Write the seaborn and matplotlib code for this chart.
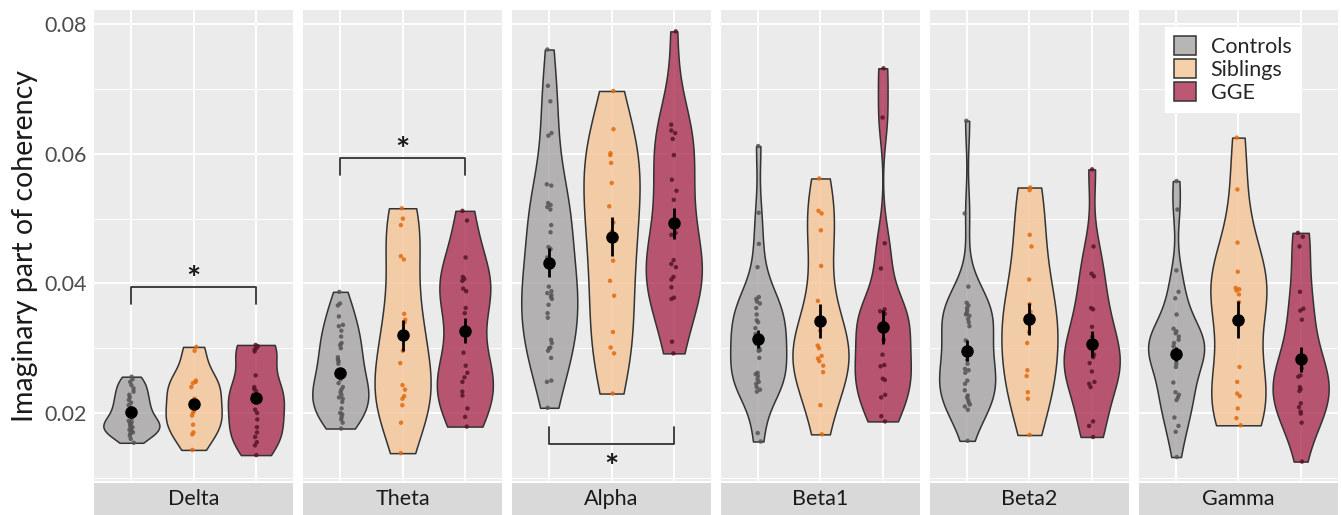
import numpy as np
import pandas as pd
import matplotlib
matplotlib.use("Agg")
import matplotlib.pyplot as plt
from matplotlib.patches import Rectangle, Patch
from matplotlib.ticker import MultipleLocator
from matplotlib.colors import to_rgba
import seaborn as sns

# ---------------- data ----------------
bands = ["Delta", "Theta", "Alpha", "Beta1", "Beta2", "Gamma"]
groups = ["Controls", "Siblings", "GGE"]

delta_controls = [0.0256, 0.0252, 0.0248, 0.0243, 0.0238, 0.0233, 0.0228, 0.0224, 0.0220, 0.0216,
                  0.0212, 0.0208, 0.0204, 0.0200, 0.0196, 0.0192, 0.0188, 0.0186, 0.0184, 0.0182,
                  0.0180, 0.0178, 0.0176, 0.0174, 0.0172, 0.0170, 0.0168, 0.0165, 0.0160, 0.0154]
delta_siblings = [0.0302, 0.0296, 0.0250, 0.0248, 0.0246, 0.0240, 0.0222, 0.0203, 0.0200, 0.0196,
                  0.0182, 0.0170, 0.0167, 0.0143]
delta_gge = [0.0305, 0.0303, 0.0300, 0.0298, 0.0295, 0.0258, 0.0240, 0.0237, 0.0234, 0.0228,
             0.0222, 0.0205, 0.0200, 0.0190, 0.0178, 0.0170, 0.0163, 0.0155, 0.0150, 0.0135]

theta_controls = [0.0387, 0.0369, 0.0366, 0.0349, 0.0336, 0.0334, 0.0327, 0.0318, 0.0308, 0.0305,
                  0.0300, 0.0286, 0.0282, 0.0280, 0.0276, 0.0262, 0.0258, 0.0252, 0.0246, 0.0240,
                  0.0236, 0.0232, 0.0228, 0.0224, 0.0222, 0.0217, 0.0207, 0.0200, 0.0198, 0.0194,
                  0.0190, 0.0185, 0.0176]
theta_siblings = [0.0516, 0.0500, 0.0490, 0.0442, 0.0437, 0.0353, 0.0344, 0.0340, 0.0296, 0.0277,
                  0.0243, 0.0236, 0.0226, 0.0222, 0.0212, 0.0185, 0.0138]
theta_gge = [0.0512, 0.0497, 0.0440, 0.0410, 0.0407, 0.0404, 0.0392, 0.0388, 0.0362, 0.0354,
             0.0293, 0.0273, 0.0262, 0.0255, 0.0248, 0.0233, 0.0227, 0.0207, 0.0194, 0.0179]

alpha_controls = [0.0761, 0.0705, 0.0681, 0.0632, 0.0628, 0.0553, 0.0551, 0.0524, 0.0521, 0.0518,
                  0.0514, 0.0490, 0.0479, 0.0456, 0.0453, 0.0440, 0.0433, 0.0395, 0.0388, 0.0385,
                  0.0382, 0.0379, 0.0376, 0.0367, 0.0354, 0.0347, 0.0313, 0.0308, 0.0301, 0.0300,
                  0.0296, 0.0285, 0.0250, 0.0248, 0.0208]
alpha_siblings = [0.0697, 0.0638, 0.0601, 0.0598, 0.0586, 0.0555, 0.0519, 0.0494, 0.0480, 0.0435,
                  0.0404, 0.0381, 0.0325, 0.0301, 0.0292, 0.0230]
alpha_gge = [0.0789, 0.0645, 0.0636, 0.0632, 0.0623, 0.0598, 0.0560, 0.0543, 0.0529, 0.0478,
             0.0475, 0.0436, 0.0430, 0.0425, 0.0410, 0.0406, 0.0394, 0.0378, 0.0376, 0.0310,
             0.0292]

beta1_controls = [0.0612, 0.0509, 0.0461, 0.0425, 0.0379, 0.0376, 0.0372, 0.0369, 0.0362, 0.0352,
                  0.0343, 0.0340, 0.0331, 0.0322, 0.0318, 0.0307, 0.0300, 0.0297, 0.0296, 0.0285,
                  0.0262, 0.0260, 0.0257, 0.0252, 0.0248, 0.0245, 0.0240, 0.0236, 0.0233, 0.0169,
                  0.0156]
beta1_siblings = [0.0562, 0.0512, 0.0508, 0.0482, 0.0427, 0.0373, 0.0327, 0.0304, 0.0300, 0.0288,
                  0.0284, 0.0280, 0.0273, 0.0263, 0.0212, 0.0167]
beta1_gge = [0.0732, 0.0656, 0.0462, 0.0423, 0.0360, 0.0357, 0.0353, 0.0340, 0.0336, 0.0313,
             0.0290, 0.0274, 0.0272, 0.0253, 0.0251, 0.0228, 0.0224, 0.0195, 0.0187]

beta2_controls = [0.0651, 0.0508, 0.0395, 0.0370, 0.0366, 0.0362, 0.0358, 0.0354, 0.0352, 0.0350,
                  0.0345, 0.0340, 0.0334, 0.0312, 0.0298, 0.0292, 0.0282, 0.0276, 0.0268, 0.0266,
                  0.0262, 0.0250, 0.0245, 0.0235, 0.0227, 0.0224, 0.0220, 0.0216, 0.0213, 0.0210,
                  0.0205, 0.0157]
beta2_siblings = [0.0548, 0.0544, 0.0475, 0.0457, 0.0406, 0.0368, 0.0356, 0.0342, 0.0325, 0.0308,
                  0.0266, 0.0257, 0.0232, 0.0222, 0.0166]
beta2_gge = [0.0576, 0.0457, 0.0415, 0.0411, 0.0362, 0.0360, 0.0333, 0.0318, 0.0300, 0.0290,
             0.0286, 0.0277, 0.0264, 0.0248, 0.0245, 0.0240, 0.0187, 0.0180, 0.0163]

gamma_controls = [0.0558, 0.0514, 0.0420, 0.0387, 0.0377, 0.0352, 0.0330, 0.0326, 0.0323, 0.0318,
                  0.0313, 0.0308, 0.0303, 0.0296, 0.0291, 0.0286, 0.0281, 0.0276, 0.0271, 0.0247,
                  0.0232, 0.0228, 0.0224, 0.0220, 0.0193, 0.0180, 0.0171, 0.0132]
gamma_siblings = [0.0625, 0.0545, 0.0463, 0.0418, 0.0393, 0.0391, 0.0389, 0.0383, 0.0371, 0.0271,
                  0.0248, 0.0230, 0.0226, 0.0207, 0.0192, 0.0181]
gamma_gge = [0.0478, 0.0472, 0.0457, 0.0387, 0.0361, 0.0358, 0.0344, 0.0284, 0.0278, 0.0269,
             0.0258, 0.0256, 0.0240, 0.0237, 0.0234, 0.0215, 0.0209, 0.0202, 0.0199, 0.0185,
             0.0125]

# group means and standard errors per band (Delta..Gamma)
mean_controls = [0.0201, 0.0261, 0.0432, 0.0314, 0.0296, 0.0291]
mean_siblings = [0.0214, 0.0320, 0.0472, 0.0342, 0.0345, 0.0344]
mean_gge = [0.0223, 0.0327, 0.0493, 0.0333, 0.0306, 0.0283]
se_controls = [0.0004, 0.0006, 0.0022, 0.0014, 0.0016, 0.0011]
se_siblings = [0.0007, 0.0024, 0.0030, 0.0026, 0.0025, 0.0029]
se_gge = [0.0007, 0.0019, 0.0024, 0.0026, 0.0020, 0.0019]

# significant comparisons: (band, bracket level, tip level, star level)
sig_bands = ["Delta", "Theta", "Alpha"]
sig_bracket_y = [0.0394, 0.0594, 0.0152]
sig_tip_y = [0.0368, 0.0568, 0.0179]
sig_star_y = [0.0405, 0.0603, 0.0114]

raw = {
    "Delta": [delta_controls, delta_siblings, delta_gge],
    "Theta": [theta_controls, theta_siblings, theta_gge],
    "Alpha": [alpha_controls, alpha_siblings, alpha_gge],
    "Beta1": [beta1_controls, beta1_siblings, beta1_gge],
    "Beta2": [beta2_controls, beta2_siblings, beta2_gge],
    "Gamma": [gamma_controls, gamma_siblings, gamma_gge],
}
rows = []
for b in bands:
    for g, vals in zip(groups, raw[b]):
        for v in vals:
            rows.append((b, g, v))
df = pd.DataFrame(rows, columns=["band", "group", "value"])

stats = pd.DataFrame({
    "band": np.repeat(bands, 3),
    "group": groups * len(bands),
    "mean": np.ravel(np.column_stack([mean_controls, mean_siblings, mean_gge])),
    "se": np.ravel(np.column_stack([se_controls, se_siblings, se_gge])),
})

# ---------------- style ----------------
sns.set_theme(style="darkgrid")
plt.rcParams["font.family"] = ["Lato", "DejaVu Sans"]
plt.rcParams["axes.facecolor"] = "#EBEBEB"
plt.rcParams["grid.color"] = "white"

fill_colors = {"Controls": "#A6A3A3", "Siblings": "#F4C396", "GGE": "#AB2E51"}
point_colors = {"Controls": "#555555", "Siblings": "#E36A0E", "GGE": "#561528"}
edge_col = "#333333"
fill_alpha = 0.8


def nrd0(kde):
    x = np.asarray(kde.dataset).ravel()
    n = x.size
    sd = x.std(ddof=1)
    q75, q25 = np.percentile(x, [75, 25])
    lo = min(sd, (q75 - q25) / 1.34)
    if lo <= 0:
        lo = sd
    return 0.9 * lo * n ** (-0.2) / sd


np.random.seed(3)
fig, axes = plt.subplots(1, 6, figsize=(13.41, 5.15), dpi=100, sharey=True)
fig.subplots_adjust(left=94 / 1341, right=1338 / 1341, top=1 - 10 / 515,
                    bottom=1 - 481 / 515, wspace=0.0487)

for ax, b in zip(axes, bands):
    sub = df[df.band == b]
    n_before = len(ax.collections)
    sns.violinplot(data=sub, x="group", y="value", hue="group", order=groups,
                   hue_order=groups, palette=fill_colors, cut=0, density_norm="area",
                   width=0.9, bw_method=nrd0, inner=None, saturation=1,
                   linewidth=1.1, linecolor=edge_col, legend=False, ax=ax)
    # translucent fill, opaque outline
    for coll in ax.collections[n_before:]:
        fc = coll.get_facecolor()
        coll.set_alpha(None)
        coll.set_facecolor([(r, g, b_, fill_alpha) for r, g, b_, _ in fc])
        coll.set_edgecolor(to_rgba(edge_col))
    sns.stripplot(data=sub, x="group", y="value", hue="group", order=groups,
                  hue_order=groups, palette=point_colors, jitter=0.045, size=3.2,
                  alpha=0.85, linewidth=0, legend=False, ax=ax, zorder=3)
    st = stats[stats.band == b].set_index("group").loc[groups]
    ax.errorbar(np.arange(3), st["mean"].values, yerr=st["se"].values, fmt="o",
                color="black", ms=8, elinewidth=2.0, capsize=0, zorder=6)

    ax.set_xlim(-0.6, 2.6)
    ax.set_ylim(0.0095, 0.0822)
    ax.set_yticks([0.02, 0.04, 0.06, 0.08])
    ax.yaxis.set_minor_locator(MultipleLocator(0.01))
    ax.grid(True, which="major", color="white", linewidth=1.4)
    ax.grid(True, which="minor", axis="y", color="white", linewidth=0.7)
    ax.set_xlabel("")
    ax.set_ylabel("")
    ax.tick_params(axis="x", length=0, labelbottom=False)
    ax.tick_params(axis="y", which="minor", length=0)
    ax.tick_params(axis="y", which="major", length=3, color="#444444", width=0.8,
                   labelsize=15.5, labelcolor="#4D4D4D", pad=2)
    for s in ax.spines.values():
        s.set_visible(False)

    # facet strip below panel
    ax.add_patch(Rectangle((0, -0.0722), 1, 0.067, transform=ax.transAxes,
                           facecolor="#D9D9D9", edgecolor="none", clip_on=False))
    ax.text(0.5, -0.039, b, transform=ax.transAxes, ha="center", va="center",
            fontsize=15.5, color="#1A1A1A")

axes[0].set_ylabel("Imaginary part of coherency", fontsize=20.5, color="#1A1A1A", labelpad=5)

# significance brackets (Controls vs GGE)
for b, yb, yt, ys in zip(sig_bands, sig_bracket_y, sig_tip_y, sig_star_y):
    ax = axes[bands.index(b)]
    ax.plot([0, 0, 2, 2], [yt, yb, yb, yt], color="#333333", lw=1.3, zorder=7)
    ax.text(1, ys, "*", ha="center", va="center", fontsize=24, fontweight="bold",
            color="#1A1A1A", zorder=7)

handles = [Patch(facecolor=to_rgba(fill_colors[g], fill_alpha), edgecolor=edge_col,
                 linewidth=1.1, label=g) for g in groups]
leg = axes[-1].legend(handles=handles, loc="upper right", bbox_to_anchor=(0.809, 0.964),
                      borderaxespad=0, frameon=True, fancybox=False, framealpha=1,
                      facecolor="white", edgecolor="white", fontsize=15.5,
                      handlelength=1.0, handleheight=1.0, labelspacing=0.1,
                      handletextpad=0.7, borderpad=0.4)

fig.savefig("out.png", dpi=100)
